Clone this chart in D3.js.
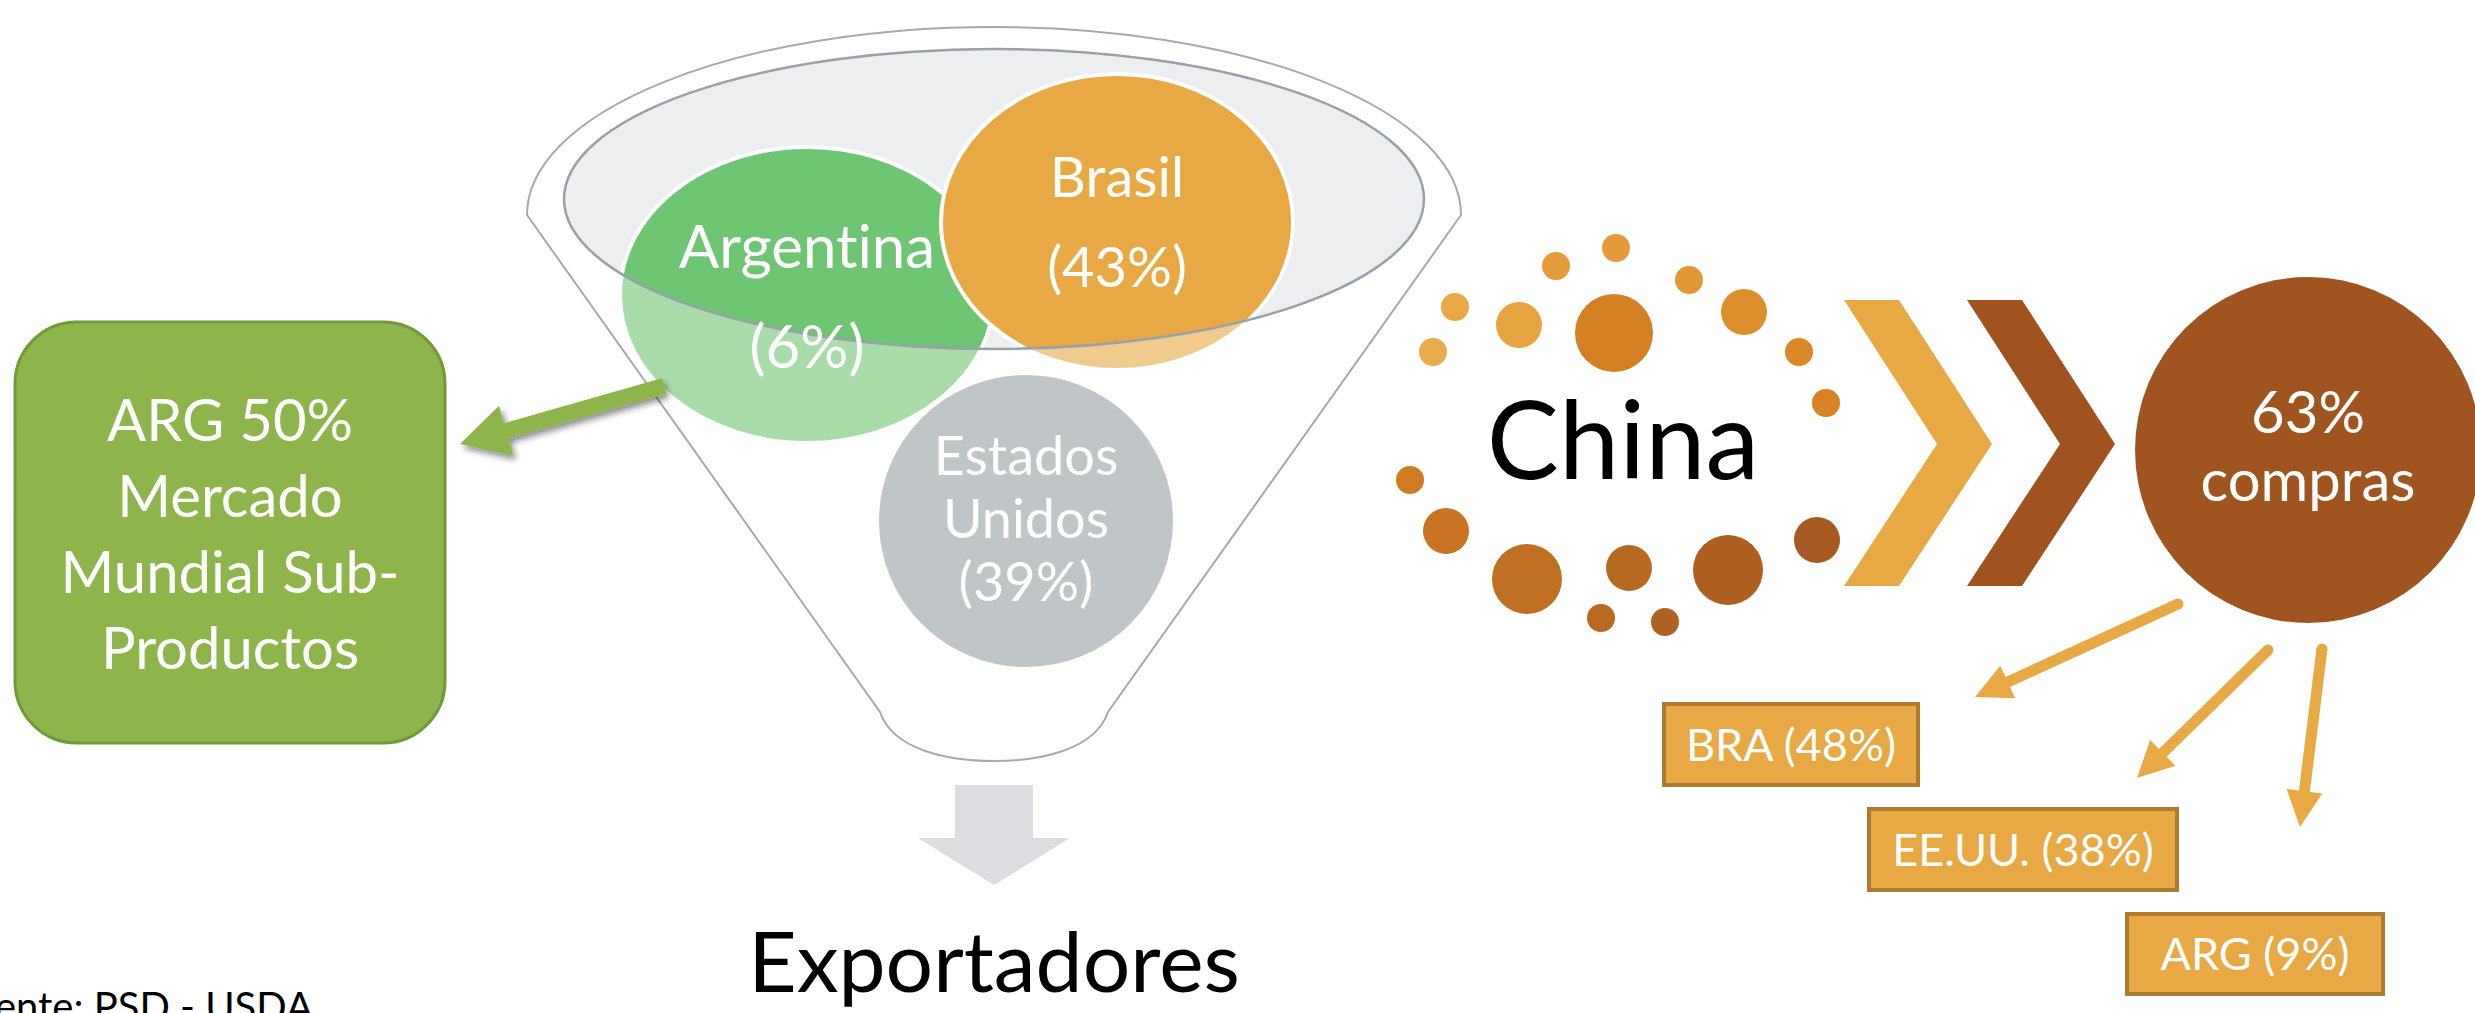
<!DOCTYPE html>
<html>
<head>
<meta charset="utf-8">
<script src="https://cdn.jsdelivr.net/npm/d3@7"></script>
<style>
  body { margin: 0; background: #fff; }
  svg { display: block; }
  text { font-family: Lato, 'Open Sans', sans-serif; font-variant-ligatures: none; }
</style>
</head>
<body>
<svg id="chart" width="2475" height="1013"></svg>
<script>
// data
const exporters = ['Argentina', 'Brasil', 'Estados Unidos'];
const exportShares = [6, 43, 39];
const buyers = ['BRA', 'EE.UU.', 'ARG'];
const buyerShares = [48, 38, 9];
const chinaShare = 63;
const argSubproductShare = 50;
const source = 'Fuente: PSD - USDA';

// layout of the diagram (positions / styles)
const bubbles = [
  { cx: 807, cy: 295, rx: 187, ry: 148, fill: '#6ec672', y0: 268, dy: 100, size: 60, split: false },
  { cx: 1117, cy: 222, rx: 176, ry: 148, fill: '#e8a944', y0: 197, dy: 90, size: 56, split: false },
  { cx: 1026, cy: 521, rx: 149, ry: 148, fill: '#979ea4', y0: 475, dy: 63, size: 54, split: true }
];
const buyerBoxes = [
  { x: 1664, y: 704, w: 254, h: 81, from: [2178, 604], to: [1975, 697] },
  { x: 1869, y: 809, w: 308, h: 81, from: [2268, 650], to: [2137, 778] },
  { x: 2127, y: 914, w: 256, h: 80, from: [2322, 649], to: [2300, 827] }
];
const dots = [
  [1616, 248, 14, '#e4993a'], [1556, 266, 14, '#e49c3a'], [1455, 307, 14, '#e8a944'],
  [1433, 352, 14, '#e8ac4c'], [1519, 325, 23, '#e6a440'], [1614, 333, 39, '#d47f24'],
  [1689, 280, 14, '#e29836'], [1744, 312, 23, '#df8e2c'], [1799, 352, 14, '#dc8728'],
  [1826, 403, 14, '#d88224'], [1410, 480, 14, '#d07b24'], [1446, 531, 23, '#c97422'],
  [1527, 579, 35, '#c07022'], [1629, 568, 23, '#b76921'], [1601, 618, 14, '#b86a22'],
  [1665, 622, 14, '#b06223'], [1728, 570, 35, '#ae6022'], [1817, 540, 23, '#a65a22']
];

const svg = d3.select('#chart');
const defs = svg.append('defs');
defs.append('filter')
    .attr('id', 'shadow')
    .attr('x', '-20%').attr('y', '-50%').attr('width', '140%').attr('height', '200%')
  .append('feDropShadow')
    .attr('dx', 3).attr('dy', 4).attr('stdDeviation', 3)
    .attr('flood-color', '#000').attr('flood-opacity', 0.45);

const line = d3.line();

function arrow(x1, y1, x2, y2, sw, hl, hw) {
  const dx = x2 - x1;
  const dy = y2 - y1;
  const len = Math.hypot(dx, dy);
  const ux = dx / len;
  const uy = dy / len;
  const px = -uy;
  const py = ux;
  const bx = x2 - ux * hl;
  const by = y2 - uy * hl;
  return line([
    [x1 + px * sw / 2, y1 + py * sw / 2],
    [bx + px * sw / 2, by + py * sw / 2],
    [bx + px * hw, by + py * hw],
    [x2, y2],
    [bx - px * hw, by - py * hw],
    [bx - px * sw / 2, by - py * sw / 2],
    [x1 - px * sw / 2, y1 - py * sw / 2]
  ]) + 'Z';
}

// ---- funnel ----
const funnel = svg.append('g');
const inner = { cx: 994, cy: 199, rx: 430, ry: 150 };
const outerPath = 'M527,215 A467,188 0 0 1 1461,215 L1108,712 ' +
  'C1095,750 1040,761 994,761 C948,761 893,750 880,712 Z';
const innerPath = `M${inner.cx - inner.rx},${inner.cy} ` +
  `A${inner.rx},${inner.ry} 0 1 0 ${inner.cx + inner.rx},${inner.cy} ` +
  `A${inner.rx},${inner.ry} 0 1 0 ${inner.cx - inner.rx},${inner.cy} Z`;

funnel.append('ellipse')
    .attr('cx', inner.cx).attr('cy', inner.cy)
    .attr('rx', inner.rx).attr('ry', inner.ry)
    .attr('fill', '#eceef0');

funnel.selectAll('ellipse.bubble')
    .data(bubbles)
  .enter().append('ellipse')
    .attr('class', 'bubble')
    .attr('cx', d => d.cx).attr('cy', d => d.cy)
    .attr('rx', d => d.rx).attr('ry', d => d.ry)
    .attr('fill', d => d.fill)
    .attr('stroke', '#fff')
    .attr('stroke-width', 4);

// translucent funnel body over the bubbles
funnel.append('path')
    .attr('d', outerPath + ' ' + innerPath)
    .attr('fill-rule', 'evenodd')
    .attr('fill', '#fff')
    .attr('fill-opacity', 0.4);

funnel.append('path')
    .attr('d', outerPath)
    .attr('fill', 'none')
    .attr('stroke', '#a4aab1')
    .attr('stroke-width', 2);

funnel.append('path')
    .attr('d', innerPath)
    .attr('fill', 'none')
    .attr('stroke', '#98a0a8')
    .attr('stroke-width', 2.5);

bubbles.forEach((b, i) => {
  const lines = b.split ? exporters[i].split(' ') : [exporters[i]];
  lines.push(`(${exportShares[i]}%)`);
  funnel.append('text')
      .attr('text-anchor', 'middle')
      .attr('fill', '#fff')
      .style('font-size', `${b.size}px`)
    .selectAll('tspan')
      .data(lines)
    .enter().append('tspan')
      .attr('x', b.cx)
      .attr('y', (d, k) => b.y0 + k * b.dy)
      .text(d => d);
});

// gray down arrow + title
funnel.append('path')
    .attr('d', line([[955, 785], [1033, 785], [1033, 838], [1070, 838], [994, 885],
      [918, 838], [955, 838]]) + 'Z')
    .attr('fill', '#dcdde0');

svg.append('text')
    .attr('x', 994).attr('y', 992)
    .attr('text-anchor', 'middle')
    .style('font-size', '84px')
    .attr('fill', '#000')
    .text('Exportadores');

// ---- green box ----
svg.append('path')
    .attr('d', arrow(664, 386, 460, 444, 16, 48, 26))
    .attr('fill', '#8db54b')
    .attr('filter', 'url(#shadow)');

svg.append('rect')
    .attr('x', 15).attr('y', 322)
    .attr('width', 430).attr('height', 421)
    .attr('rx', 62).attr('ry', 62)
    .attr('fill', '#8db54b')
    .attr('stroke', '#6f9a37')
    .attr('stroke-width', 3);

const greenLines = [`ARG ${argSubproductShare}%`, 'Mercado', 'Mundial Sub-', 'Productos'];
svg.append('text')
    .attr('text-anchor', 'middle')
    .attr('fill', '#fff')
    .style('font-size', '58px')
  .selectAll('tspan')
    .data(greenLines)
  .enter().append('tspan')
    .attr('x', 230)
    .attr('y', (d, i) => 441 + i * 76)
    .text(d => d);

// ---- China ----
svg.append('g').selectAll('circle')
    .data(dots)
  .enter().append('circle')
    .attr('cx', d => d[0]).attr('cy', d => d[1]).attr('r', d => d[2])
    .attr('fill', d => d[3]);

svg.append('text')
    .attr('x', 1623).attr('y', 479)
    .attr('text-anchor', 'middle')
    .style('font-size', '108px')
    .attr('fill', '#000')
    .text('China');

const chevron = (x0, fill) => svg.append('path')
    .attr('d', line([[x0, 300], [x0 + 55, 300], [x0 + 148, 444], [x0 + 55, 586],
      [x0, 586], [x0 + 93, 444]]) + 'Z')
    .attr('fill', fill);
chevron(1844, '#e8a944');
chevron(1967, '#a0531f');

svg.append('circle')
    .attr('cx', 2308).attr('cy', 450).attr('r', 173)
    .attr('fill', '#a0541f');

svg.append('text')
    .attr('text-anchor', 'middle')
    .attr('fill', '#fff')
    .style('font-size', '58px')
  .selectAll('tspan')
    .data([`${chinaShare}%`, 'compras'])
  .enter().append('tspan')
    .attr('x', 2308)
    .attr('y', (d, i) => 433 + i * 68)
    .text(d => d);

// buyer arrows and boxes
const boxG = svg.append('g').selectAll('g')
    .data(buyerBoxes)
  .enter().append('g');

boxG.append('path')
    .attr('d', d => arrow(d.from[0], d.from[1], d.to[0], d.to[1], 11, 36, 18))
    .attr('fill', '#e8a944');

boxG.append('circle')
    .attr('cx', d => d.from[0]).attr('cy', d => d.from[1]).attr('r', 5.5)
    .attr('fill', '#e8a944');

boxG.append('rect')
    .attr('x', d => d.x).attr('y', d => d.y)
    .attr('width', d => d.w).attr('height', d => d.h)
    .attr('fill', '#e8a944')
    .attr('stroke', '#b07a2e')
    .attr('stroke-width', 4);

boxG.append('text')
    .attr('x', d => d.x + d.w / 2)
    .attr('y', d => d.y + d.h / 2 + 16)
    .attr('text-anchor', 'middle')
    .attr('fill', '#fff')
    .style('font-size', '45px')
    .text((d, i) => `${buyers[i]} (${buyerShares[i]}%)`);

// source note (cut at the left edge as in the slide)
svg.append('text')
    .attr('x', 313).attr('y', 1021)
    .attr('text-anchor', 'end')
    .style('font-size', '40px')
    .attr('fill', '#000')
    .text(source);
</script>
</body>
</html>
